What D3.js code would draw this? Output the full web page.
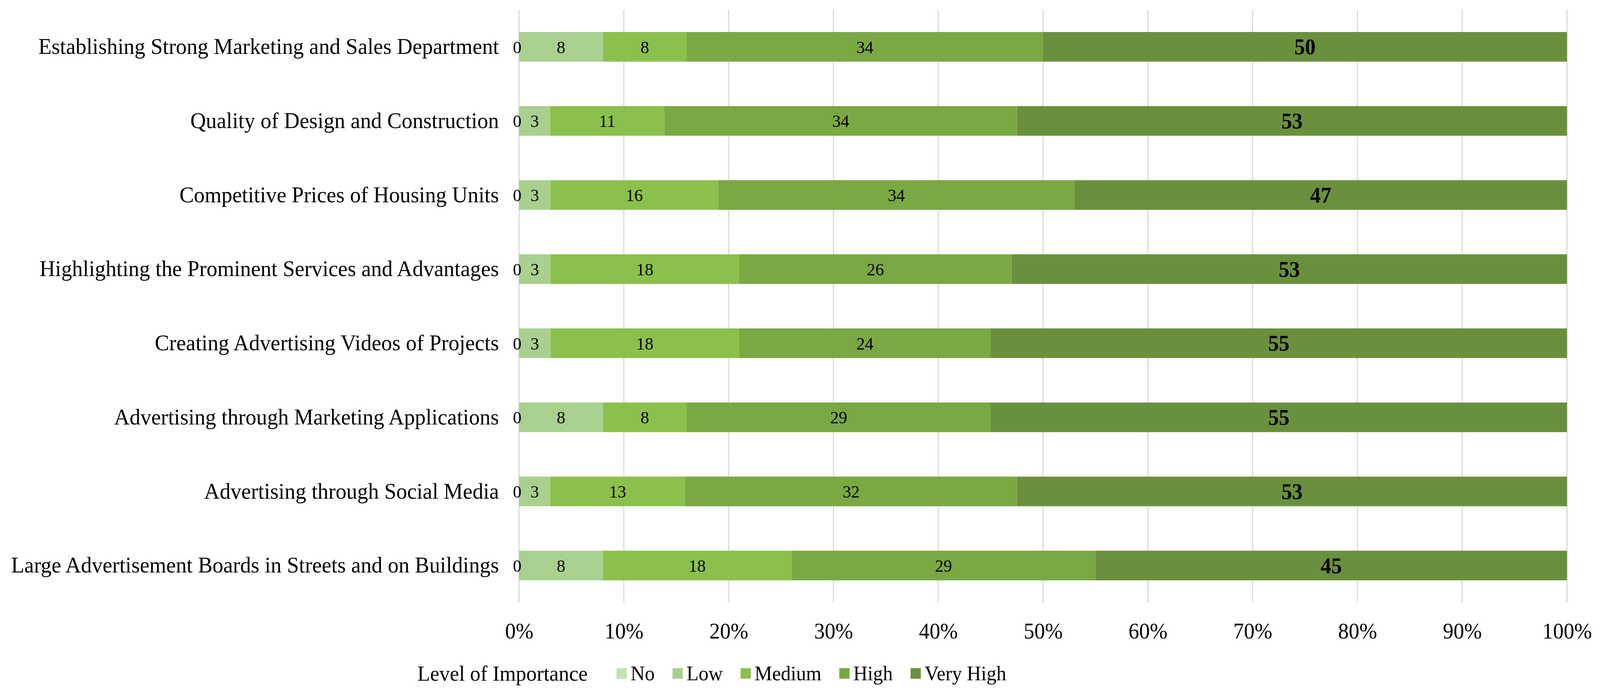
<!DOCTYPE html>
<html>
<head>
<meta charset="utf-8">
<script src="https://cdn.jsdelivr.net/npm/d3@7"></script>
<style>
  html, body { margin: 0; padding: 0; background: #fff; overflow: hidden; }
  svg { display: block; width: 100vw; height: 100vh; }
  svg text { font-family: "Liberation Serif", "Times New Roman", serif; fill: #000; }
</style>
</head>
<body>
<svg id="chart" viewBox="0 0 4217 1772" preserveAspectRatio="none"></svg>
<script>
// Categories (top to bottom)
const factors = [
    "Establishing Strong Marketing and Sales Department",
    "Quality of Design and Construction",
    "Competitive Prices of Housing Units",
    "Highlighting the Prominent Services and Advantages",
    "Creating Advertising Videos of Projects",
    "Advertising through Marketing Applications",
    "Advertising through Social Media",
    "Large Advertisement Boards in Streets and on Buildings"
];

const levels = ["No", "Low", "Medium", "High", "Very High"];

// Values per level, same order as factors
const noVals       = [0, 0, 0, 0, 0, 0, 0, 0];
const lowVals      = [8, 3, 3, 3, 3, 8, 3, 8];
const mediumVals   = [8, 11, 16, 18, 18, 8, 13, 18];
const highVals     = [34, 34, 34, 26, 24, 29, 32, 29];
const veryHighVals = [50, 53, 47, 53, 55, 55, 53, 45];

const xTicks = [0, 0.1, 0.2, 0.3, 0.4, 0.5, 0.6, 0.7, 0.8, 0.9, 1];
const legendTitle = "Level of Importance";

const colors = ["#c5e0b4", "#a9d08e", "#8bc04c", "#7aa843", "#6a903e"];

const series = [noVals, lowVals, mediumVals, highVals, veryHighVals];

const svg = d3.select("#chart");

const margin = { left: 1368, right: 87, top: 25, bottom: 229 };
const width = 4217, height = 1772;

const x = d3.scaleLinear().domain([0, 1]).range([margin.left, width - margin.right]);
const y = d3.scaleBand().domain(factors)
    .range([margin.top, height - margin.bottom])
    .paddingInner(0.6).paddingOuter(0.3);

// rows -> stacked proportions
const rows = factors.map((f, i) => {
    const vals = series.map(s => s[i]);
    const total = d3.sum(vals);
    let acc = 0;
    return vals.map((v, k) => {
        const seg = { factor: f, level: k, value: v, x0: acc / total, x1: (acc + v) / total };
        acc += v;
        return seg;
    });
});

// Gridlines
svg.append("g").selectAll("line")
    .data(xTicks)
    .join("line")
    .attr("x1", d => x(d)).attr("x2", d => x(d))
    .attr("y1", margin.top).attr("y2", height - margin.bottom)
    .attr("stroke", "#d9d9d9")
    .attr("stroke-width", 3);

// Bars
const segs = rows.flat();
svg.append("g").selectAll("rect")
    .data(segs)
    .join("rect")
    .attr("x", d => x(d.x0))
    .attr("width", d => x(d.x1) - x(d.x0))
    .attr("y", d => y(d.factor))
    .attr("height", y.bandwidth())
    .attr("fill", d => colors[d.level]);

// Data labels
svg.append("g").selectAll("text")
    .data(segs)
    .join("text")
    .attr("x", d => x((d.x0 + d.x1) / 2) - (d.value === 0 ? 5 : 0))
    .attr("y", d => y(d.factor) + y.bandwidth() / 2)
    .attr("dy", "0.35em")
    .attr("text-anchor", "middle")
    .style("font-size", d => d.level === 4 ? "56px" : "45px")
    .style("font-weight", d => d.level === 4 ? "bold" : "normal")
    .text(d => d.value);

// Y axis labels
const yAxis = d3.axisLeft(y).tickSize(0).tickPadding(53);
svg.append("g")
    .attr("transform", `translate(${margin.left},0)`)
    .call(yAxis)
    .call(g => g.select(".domain").remove())
    .selectAll("text")
    .style("font-size", "57px")
    .style("font-family", '"Liberation Serif", serif');

// X axis labels
const xAxis = d3.axisBottom(x).tickValues(xTicks).tickFormat(d3.format(".0%")).tickSize(0).tickPadding(52);
svg.append("g")
    .attr("transform", `translate(0,${height - margin.bottom})`)
    .call(xAxis)
    .call(g => g.select(".domain").remove())
    .selectAll("text")
    .style("font-size", "56px")
    .style("font-family", '"Liberation Serif", serif');

// Legend
const legendY = 1724;
const legend = svg.append("g");
legend.append("text")
    .attr("x", 1100).attr("y", legendY).attr("dy", "0.35em")
    .style("font-size", "55px")
    .text(legendTitle);

let lx = 1625;
levels.forEach((lv, k) => {
    legend.append("rect")
        .attr("x", lx).attr("y", legendY - 13)
        .attr("width", 27).attr("height", 27)
        .attr("fill", colors[k]);
    const t = legend.append("text")
        .attr("x", lx + 37).attr("y", legendY).attr("dy", "0.35em")
        .style("font-size", "52px")
        .text(lv);
    lx += 37 + t.node().getComputedTextLength() + 47;
});
</script>
</body>
</html>
